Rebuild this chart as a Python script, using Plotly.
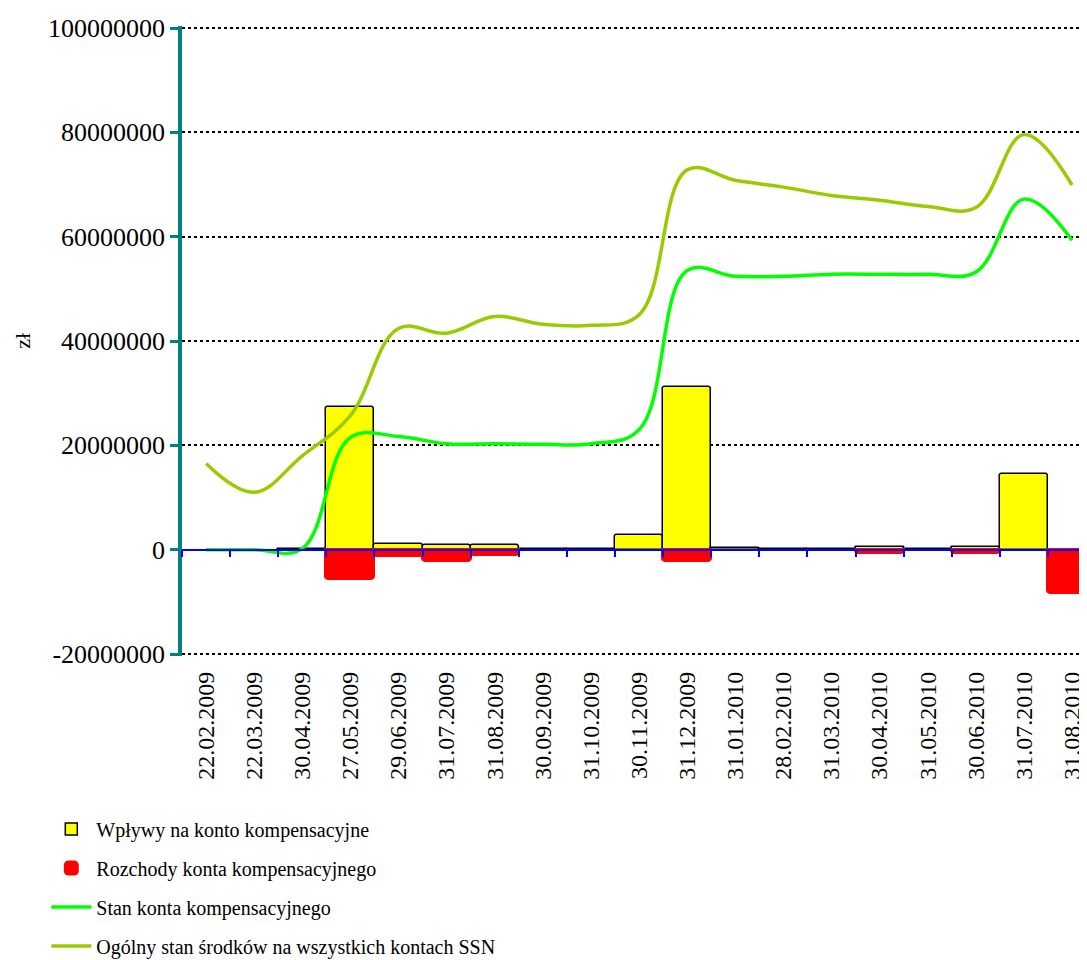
import plotly.graph_objects as go

dates = ["22.02.2009", "22.03.2009", "30.04.2009", "27.05.2009", "29.06.2009",
         "31.07.2009", "31.08.2009", "30.09.2009", "31.10.2009", "30.11.2009",
         "31.12.2009", "31.01.2010", "28.02.2010", "31.03.2010", "30.04.2010",
         "31.05.2010", "30.06.2010", "31.07.2010", "31.08.2010"]

wplywy = [None, None, 100000, 27300000, 1100000, 800000, 800000, 100000, 100000,
          2900000, 31100000, 400000, 100000, 100000, 450000, 100000, 450000,
          14600000, None]

rozchody = [None, None, None, -5700000, -1300000, -2200000, -1000000, None, None,
            None, -2200000, None, None, None, -600000, None, -600000, None,
            -8400000]

stan_konta = [0, 0, 200000, 21500000, 21700000, 20300000, 20300000, 20200000,
              20300000, 23000000, 53500000, 52400000, 52400000, 52800000,
              52800000, 52800000, 53200000, 67200000, 59300000]

ogolny_stan = [16500000, 11000000, 18000000, 25700000, 42400000, 41500000,
               44700000, 43200000, 43000000, 45000000, 72800000, 70800000,
               69500000, 67900000, 67000000, 65800000, 65600000, 79600000,
               69900000]

y_min, y_max, y_step = -20000000, 100000000, 20000000
y_ticks = list(range(y_min, y_max + 1, y_step))

FONT = "Liberation Serif"
n = len(dates)
x_range = [-0.5, 18.31]

W, H = 1079, 952
TOP, BOTTOM = 18, 648          # plot area edges (figure px)
EDGE_PX = 2                    # keep end gridlines just inside the plot
y_pad = (y_max - y_min) * EDGE_PX / (BOTTOM - TOP - 2 * EDGE_PX)
y_lo, y_hi = y_min - y_pad, y_max + y_pad

fig = go.Figure()
fig.add_trace(go.Bar(
    x=dates, y=wplywy, name="Wpływy na konto kompensacyjne",
    marker=dict(color="#FFFF00", line=dict(color="black", width=1.5)),
    legendgroup="a"))
fig.add_trace(go.Bar(
    x=dates, y=rozchody, name="Rozchody konta kompensacyjnego",
    marker=dict(color="#FF0000", line=dict(color="#FF0000", width=3),
                cornerradius=3),
    legendgroup="b"))
fig.add_trace(go.Scatter(
    x=dates, y=stan_konta, name="Stan konta kompensacyjnego", mode="lines",
    line=dict(color="#00FF00", width=3.5, shape="spline", smoothing=1.1),
    legendgroup="c"))
fig.add_trace(go.Scatter(
    x=dates, y=ogolny_stan, name="Ogólny stan środków na wszystkich kontach SSN",
    mode="lines",
    line=dict(color="#99CC00", width=3.5, shape="spline", smoothing=1.1),
    legendgroup="d"))
# helper trace so the zero-line axis (x2) is drawn
fig.add_trace(go.Scatter(x=[0], y=[None], xaxis="x2", showlegend=False,
                         hoverinfo="skip"))

fig.update_layout(
    width=W, height=H,
    margin=dict(l=174, r=0, t=TOP, b=H - BOTTOM, autoexpand=False),
    paper_bgcolor="white", plot_bgcolor="white",
    barmode="relative", bargap=0,
    font=dict(family=FONT, size=22, color="black"),
    xaxis=dict(type="category", range=x_range, showline=False, ticks="",
               tickmode="linear", dtick=1,
               tickangle=-90, ticklabelstandoff=10, showgrid=False,
               zeroline=False, automargin=False,
               tickfont=dict(family=FONT, size=24)),
    xaxis2=dict(overlaying="x", anchor="free",
                position=(0 - y_lo) / (y_hi - y_lo),
                range=x_range, tickvals=[k - 0.5 for k in range(n + 1)],
                showticklabels=False, ticks="outside", ticklen=7,
                tickcolor="#0000FF", tickwidth=1.5, showline=True,
                linecolor="#0000FF", linewidth=1.5, showgrid=False,
                zeroline=False),
    yaxis=dict(range=[y_lo, y_hi], tickvals=y_ticks,
               ticktext=[str(v) for v in y_ticks],
               showline=True, linecolor="#008080", linewidth=3.5,
               ticks="outside", ticklen=8, tickcolor="#008080", tickwidth=3,
               showgrid=True, gridcolor="black", griddash="dot", gridwidth=1.5,
               zeroline=False, automargin=False,
               tickfont=dict(family=FONT, size=26)),
    annotations=[dict(text="zł", xref="paper", yref="paper", x=-0.177, y=0.5,
                      xanchor="center", yanchor="middle", textangle=-90,
                      showarrow=False, font=dict(family=FONT, size=22))],
    legend=dict(xref="container", yref="container", x=0.0355, y=0.158,
                xanchor="left", yanchor="top", orientation="v",
                traceorder="grouped", tracegroupgap=10,
                font=dict(family=FONT, size=20), itemwidth=40,
                bgcolor="rgba(0,0,0,0)"),
    showlegend=True,
)

fig.write_html("out.html")
